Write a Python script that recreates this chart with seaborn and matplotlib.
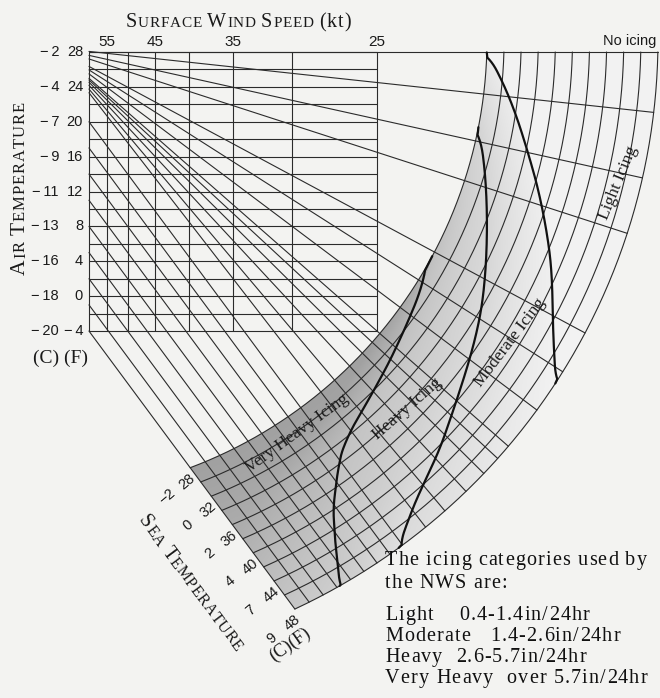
import numpy as np
import pandas as pd
import matplotlib
matplotlib.use("Agg")
import matplotlib.pyplot as plt
import seaborn as sns
from matplotlib.font_manager import FontProperties
from matplotlib.textpath import TextToPath

# ---- values ----
wind_kt = [60, 55, 50, 45, 40, 35, 30, 25]
wind_labels = [55, 45, 35, 25]
air_rows_F = list(range(28, -6, -2))
air_ticks_F = [28, 24, 20, 16, 12, 8, 4, 0, -4]
air_ticks_C = [-2, -4, -7, -9, -11, -13, -16, -18, -20]
sea_arcs_F = list(range(28, 50, 2))
sea_ticks_F = [28, 32, 36, 40, 44, 48]
sea_ticks_C = [-2, 0, 2, 4, 7, 9]

# iso-lines through a common pole: air temp (F) where each one crosses 25 kt
pole_kt, pole_F = 73.2, 28.5
fan_T25 = [24.5, 20.3, 16.5, 8.6, 4.9, 0.7, -4.0, -5.8, -8.2, -11.4, -15.4, -19.3]
# steep parallel iso-lines: air temp at the 60 kt edge, and drop to 25 kt
steep_start_F = [-4, -1, 2, 5, 8, 11, 14, 17, 20]
steep_drop_F = 44.6

# icing category boundaries on the band: sea temp (F) vs polar angle (deg)
vh_sea = [28, 29.2, 30.9, 32.6, 34.1, 36.2, 39.7, 43.1, 48]
vh_ang = [28.3, 34.9, 41.6, 47.8, 51.8, 54.2, 57.0, 58.6, 60.4]
hv_sea = [28, 30, 32, 34.4, 36.4, 38, 40.3, 42.7, 44.2, 46.9, 48]
hv_ang = [11.1, 16.4, 21.6, 27.2, 31.6, 35.8, 41.2, 45.7, 49.1, 52.9, 54.0]
md_sea = [28, 30.1, 34.1, 37.9, 41.4, 42.8, 44.9, 48]
md_ang = [1.7, 5.3, 12.6, 18.7, 24.1, 26.5, 29.6, 33.2]

categories = ["Light", "Moderate", "Heavy", "Very Heavy"]
rates = ["0.4-1.4in/24hr", "1.4-2.6in/24hr", "2.6-5.7in/24hr", "over 5.7in/24hr"]
zone_labels = ["Light Icing", "Moderate Icing", "Heavy Icing", "Very Heavy Icing"]

# ---- nomogram scales (pixel space) ----
W, H = 660, 698
CX, CY = 29.0, 39.0


def wind_x(v):
    return -88.9 + 16071.0 * np.asarray(v, float) ** -1.1


def air_y(f):
    return 52.0 + (28.0 - np.asarray(f, float)) * 8.72


def sea_r(f):
    return 458.0 + (np.asarray(f, float) - 28.0) * 8.55


def polar(r, a):
    a = np.radians(a)
    return CX + r * np.cos(a), CY + r * np.sin(a)


def hit_circle(p, d, r):
    qx, qy = p[0] - CX, p[1] - CY
    b = qx * d[0] + qy * d[1]
    c = qx * qx + qy * qy - r * r
    return -b + np.sqrt(b * b - c)


def unit(v):
    v = np.asarray(v, float)
    return v / np.hypot(*v)


sns.set_theme(style="white")
plt.rcParams['font.family'] = ['Liberation Serif', 'DejaVu Serif']
BG = '#f3f3f1'
INK = '#2b2b2b'
TXT = '#1a1a1a'

fig = plt.figure(figsize=(6.6, 6.98), dpi=100, facecolor=BG)
ax = fig.add_axes([0, 0, 1, 1])
ax.set_facecolor(BG)

x60, x25 = float(wind_x(60)), float(wind_x(25))
ytop, ybot = float(air_y(28)), float(air_y(-4))
r_in, r_out = float(sea_r(28)), float(sea_r(48))
p_edge = np.array([x60, ybot])
d_edge = unit([x25 - x60, float(air_y(-4 - steep_drop_F)) - ybot])

# ---- shading of the icing band ----
yy, xx = np.mgrid[0:H, 0:W] + 0.5
rr = np.hypot(xx - CX, yy - CY)
aa = np.degrees(np.arctan2(yy - CY, xx - CX))
cross = (xx - p_edge[0]) * d_edge[1] - (yy - p_edge[1]) * d_edge[0]
mask = (rr >= r_in) & (rr <= r_out) & (yy >= ytop) & (cross > 0)
sf = 28 + (rr - 458.0) / 8.55
a1 = np.interp(sf, vh_sea, vh_ang)
a2 = np.interp(sf, hv_sea, hv_ang)
a3 = np.interp(sf, md_sea, md_ang)
rn = np.clip((rr - r_in) / (r_out - r_in), 0, 1)
t_vh = np.clip((aa - a1) / 12.0, 0, 1)
t_h = np.clip((aa - a2) / np.maximum(a1 - a2, 1e-3), 0, 1)
t_m = np.clip((aa - a3) / np.maximum(a2 - a3, 1e-3), 0, 1)
g = np.full(rr.shape, 0.95)
g = np.where(aa > a1, 0.63 + 0.11 * rn + 0.07 * (1 - t_vh), g)
g = np.where((aa <= a1) & (aa > a2), 0.84 - 0.09 * t_h + 0.04 * rn, g)
g = np.where((aa <= a2) & (aa > a3), 0.92 - 0.09 * t_m + 0.03 * rn, g)
img = np.dstack([g, g, g, mask.astype(float)])
ax.imshow(img, extent=(0, W, H, 0), interpolation='bilinear', zorder=0)

# ---- thin lines: grid, iso-lines, sea temperature arcs ----
rows = []


def add(pid, xs, ys):
    for i, (x, y) in enumerate(zip(np.atleast_1d(xs), np.atleast_1d(ys))):
        rows.append((pid, i, x, y))


pid = 0
for v in wind_kt:
    add(pid, [wind_x(v)] * 2, [ytop, ybot]); pid += 1
for f in air_rows_F:
    add(pid, [x60, x25], [air_y(f)] * 2); pid += 1
add(pid, [x60, CX + np.sqrt(r_out ** 2 - (ytop - CY) ** 2)], [ytop, ytop]); pid += 1

p_pole = np.array([float(wind_x(pole_kt)), float(air_y(pole_F))])
for t25 in fan_T25:
    d = unit([x25 - p_pole[0], float(air_y(t25)) - p_pole[1]])
    s = p_pole + (x60 - p_pole[0]) / d[0] * d
    e = p_pole + hit_circle(p_pole, d, r_out) * d
    add(pid, [s[0], e[0]], [s[1], e[1]]); pid += 1
for f0 in steep_start_F:
    p0 = np.array([x60, float(air_y(f0))])
    d = unit([x25 - x60, float(air_y(f0 - steep_drop_F)) - p0[1]])
    e = p0 + hit_circle(p0, d, r_out) * d
    add(pid, [p0[0], e[0]], [p0[1], e[1]]); pid += 1

arc_ends = {}
for f in sea_arcs_F:
    r = float(sea_r(f))
    a0 = np.degrees(np.arcsin((ytop - CY) / r))
    q = p_edge + hit_circle(p_edge, d_edge, r) * d_edge
    arc_ends[f] = q
    a_end = np.degrees(np.arctan2(q[1] - CY, q[0] - CX))
    xs, ys = polar(r, np.linspace(a0, a_end, 160))
    add(pid, xs, ys); pid += 1

lines = pd.DataFrame(rows, columns=['id', 'k', 'x', 'y'])
sns.lineplot(data=lines, x='x', y='y', units='id', estimator=None, sort=False,
             color=INK, linewidth=0.8, legend=False, ax=ax, zorder=2)

# ---- icing category boundaries ----
brows = []
for b, (sea, ang) in enumerate([(vh_sea, vh_ang), (hv_sea, hv_ang), (md_sea, md_ang)]):
    s = np.linspace(28, 48, 240)
    a = np.interp(s, sea, ang)
    k = 15
    pad = np.pad(a, k, mode='edge')
    a = np.convolve(pad, np.ones(2 * k + 1) / (2 * k + 1), mode='valid')
    a[0], a[-1] = ang[0], ang[-1]
    xs, ys = polar(sea_r(s), a)
    for i, (x, y) in enumerate(zip(xs, ys)):
        brows.append((b, i, x, y))
bounds = pd.DataFrame(brows, columns=['id', 'k', 'x', 'y'])
sns.lineplot(data=bounds, x='x', y='y', units='id', estimator=None, sort=False,
             color='#111111', linewidth=1.6, legend=False, ax=ax, zorder=3)

# ---- text ----
_ttp = TextToPath()


def adv(s, size, family='Liberation Serif'):
    f = FontProperties(family=family, size=size)
    w1 = _ttp.get_text_width_height_descent(s + 'x', f, False)[0]
    w0 = _ttp.get_text_width_height_descent('x', f, False)[0]
    return (w1 - w0) * 100 / 72


def place_chars(chars, x, y, rot=0.0, track=0.0, center=True, color=TXT):
    widths = [adv(c, sz) + track for c, sz in chars]
    total = sum(widths) - track
    th = np.radians(rot)
    ux, uy = np.cos(th), -np.sin(th)
    if center:
        x, y = x - ux * total / 2, y - uy * total / 2
    for (c, sz), w in zip(chars, widths):
        if c != ' ':
            ax.text(x, y, c, fontsize=sz, rotation=rot, rotation_mode='anchor',
                    ha='left', va='baseline', color=color, zorder=4)
        x += ux * w
        y += uy * w


def small_caps(words, cx, cy, big, small, rot=0.0, track=0.0):
    chars = []
    for i, w in enumerate(words):
        if i:
            chars.append((' ', small))
        if w.startswith('('):
            chars += [(c, big) for c in w]
        else:
            chars.append((w[0].upper(), big))
            chars += [(c, small) for c in w[1:].upper()]
    place_chars(chars, cx, cy, rot, track)


small_caps(["Surface", "Wind", "Speed", "(kt)"], 238, 27, 14.5, 11.0, track=0.8)
small_caps(["Air", "Temperature"], 25, 188, 15.5, 12.0, rot=90, track=0.9)
small_caps(["Sea", "Temperature"], 187, 586, 14.5, 11.5, rot=-53.3, track=0.6)

SANS = 'Liberation Sans'
for v in wind_labels:
    ax.text(wind_x(v), 46, str(v), family=SANS, fontsize=11, ha='center',
            va='baseline', color=TXT)
ax.text(656, 45, "No icing", family=SANS, fontsize=10.5, ha='right',
        va='baseline', color=TXT)


def fmt(v):
    return f"\u2212\u2009{abs(v)}" if v < 0 else str(v)


for f, c in zip(air_ticks_F, air_ticks_C):
    ax.text(83, air_y(f), fmt(f), family=SANS, fontsize=10.5, ha='right',
            va='center', color=TXT)
    ax.text(59, air_y(f), fmt(c), family=SANS, fontsize=10.5, ha='right',
            va='center', color=TXT)
ax.text(33, 363, "(C) (F)", fontsize=14, ha='left', va='baseline', color=TXT)

for f, c in zip(sea_ticks_F, sea_ticks_C):
    q = arc_ends[f]
    ax.text(q[0] - 3, q[1] + 14, str(f), family=SANS, fontsize=10.5, rotation=40,
            rotation_mode='anchor', ha='center', va='center', color=TXT)
    ax.text(q[0] - 23, q[1] + 29, str(c).replace('-', '\u2212'), family=SANS,
            fontsize=10.5, rotation=40, rotation_mode='anchor', ha='center',
            va='center', color=TXT)
ax.text(290, 645, "(C)(F)", fontsize=13, rotation=35, rotation_mode='anchor',
        ha='center', va='center', color=TXT)

label_pos = [(618, 183, 67.7), (510, 343, 52.8), (407, 409, 41.0), (297, 433, 36.0)]
for txt, (x, y, rot) in zip(zone_labels, label_pos):
    ax.text(x, y, txt, fontsize=12.5, rotation=rot, rotation_mode='anchor',
            ha='center', va='center', color=TXT, zorder=4)

BODY = 14.5
gaps = [4, 3, 2, 2]
block = ["The icing categories used by", "the NWS are:"]
block += [cat + " " * n + rate for cat, n, rate in zip(categories, gaps, rates)]
baselines = [565, 588, 620, 641, 662, 683]
for line, yb in zip(block, baselines):
    place_chars([(c, BODY) for c in line], 385, yb, track=1.15, center=False,
                color='#111111')

ax.set_xlim(0, W)
ax.set_ylim(H, 0)
ax.set_axis_off()
fig.savefig('out.png', dpi=100, facecolor=BG)
